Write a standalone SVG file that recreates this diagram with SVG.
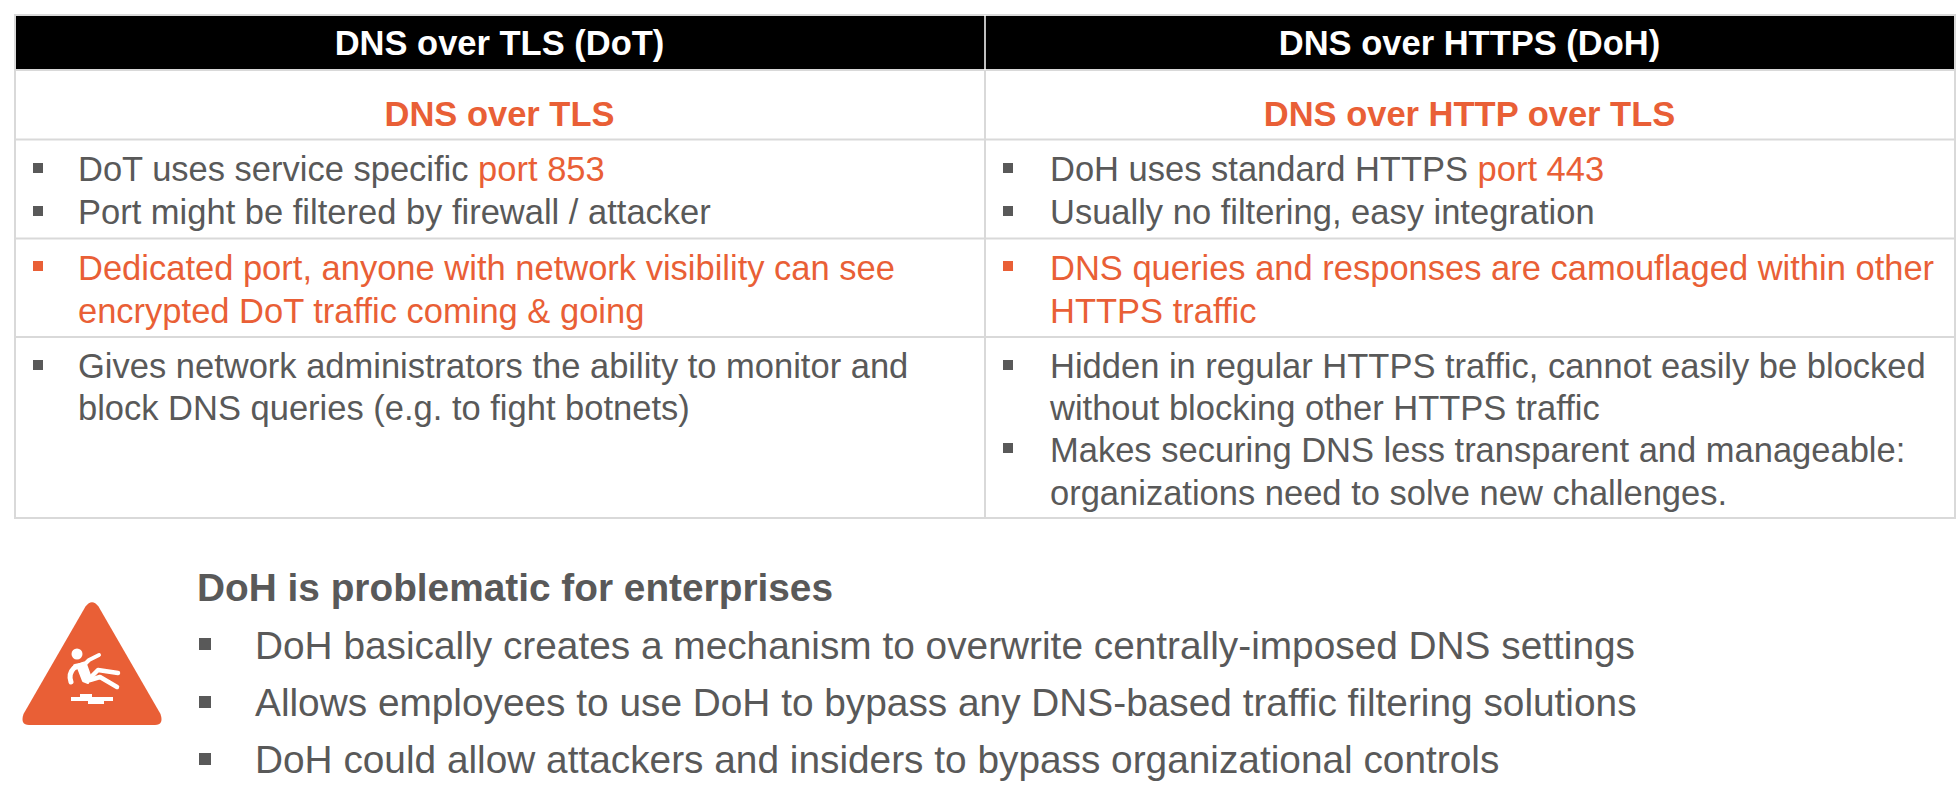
<svg xmlns="http://www.w3.org/2000/svg" width="1960" height="798" viewBox="0 0 1960 798">
<style>
text{font-family:"Liberation Sans",Arial,sans-serif}
.h{font-size:34.500px;font-weight:700;fill:#fff;text-anchor:middle}
.s{font-size:34.500px;font-weight:700;fill:#e95f36;text-anchor:middle}
.b{font-size:34.500px;fill:#595959}
.o{fill:#e95f36}
.t{font-size:38.800px;font-weight:700;fill:#595959}
.c{font-size:38.800px;fill:#595959}
.g{fill:#595959}
.l{stroke:#d9d9d9;stroke-width:2;fill:none}
</style>
<rect width="1960" height="798" fill="#fff"/>
<g id="table">
<rect x="15" y="15" width="1940" height="55" fill="#000"/>
<path class="l" d="M15 15H1955V518H15ZM15 70H1955M15 139.500H1955M15 238.500H1955M15 337H1955M985 70V518"/>
<path d="M985 15V70" stroke="#fff" stroke-width="1.500"/>
</g>
<g id="header-dot"><text class="h" x="499.500" y="55">DNS over TLS (DoT)</text></g>
<g id="header-doh"><text class="h" x="1469.500" y="55">DNS over HTTPS (DoH)</text></g>
<g id="sub-dot"><text class="s" x="499.500" y="126">DNS over TLS</text></g>
<g id="sub-doh"><text class="s" x="1469.500" y="126">DNS over HTTP over TLS</text></g>
<g id="dot-port">
<rect class="g" x="33" y="163" width="10" height="10"/><rect class="g" x="33" y="206" width="10" height="10"/>
<text class="b" x="78" y="181">DoT uses service specific <tspan class="o">port 853</tspan></text>
<text class="b" x="78" y="224">Port might be filtered by firewall / attacker</text>
</g>
<g id="doh-port">
<rect class="g" x="1003" y="163" width="10" height="10"/><rect class="g" x="1003" y="206" width="10" height="10"/>
<text class="b" x="1050" y="181">DoH uses standard HTTPS <tspan class="o">port 443</tspan></text>
<text class="b" x="1050" y="224">Usually no filtering, easy integration</text>
</g>
<g id="dot-visibility">
<rect class="o" x="33" y="261" width="10" height="10"/>
<text class="b o" x="78" y="280">Dedicated port, anyone with network visibility can see</text>
<text class="b o" x="78" y="323">encrypted DoT traffic coming &amp; going</text>
</g>
<g id="doh-visibility">
<rect class="o" x="1003" y="261" width="10" height="10"/>
<text class="b o" x="1050" y="280">DNS queries and responses are camouflaged within other</text>
<text class="b o" x="1050" y="323">HTTPS traffic</text>
</g>
<g id="dot-control">
<rect class="g" x="33" y="360" width="10" height="10"/>
<text class="b" x="78" y="378">Gives network administrators the ability to monitor and</text>
<text class="b" x="78" y="420">block DNS queries (e.g. to fight botnets)</text>
</g>
<g id="doh-control">
<rect class="g" x="1003" y="360" width="10" height="10"/><rect class="g" x="1003" y="443" width="10" height="10"/>
<text class="b" x="1050" y="378">Hidden in regular HTTPS traffic, cannot easily be blocked</text>
<text class="b" x="1050" y="420">without blocking other HTTPS traffic</text>
<text class="b" x="1050" y="462">Makes securing DNS less transparent and manageable:</text>
<text class="b" x="1050" y="505">organizations need to solve new challenges.</text>
</g>
<g id="warning-icon">
<path d="M85.500 606.500Q92 598 98.500 606.500L160.500 714Q164 725 155 725H29Q20 725 23.500 714Z" fill="#e95f36"/>
<g fill="#fff" stroke="#fff" stroke-linecap="round" stroke-linejoin="round">
<circle cx="77" cy="654" r="5.500" stroke="none"/>
<path d="M71 682Q68 674 74 668L84 664" fill="none" stroke-width="5"/>
<path d="M75 666L85 664L89 660L99 655" fill="none" stroke-width="4"/>
<path d="M78 668L86 664L91 678L88 683L83 681Z" stroke-width="2"/>
<path d="M92 676L98 670L118 673" fill="none" stroke-width="4.500"/>
<path d="M90 680L100 677L117 687" fill="none" stroke-width="4.500"/>
</g>
<path d="M71 697H80V694H92V697H113V701H104V704H88V701H71Z" fill="#fff"/>
</g>
<g id="enterprise-notes">
<text class="t" x="197" y="601">DoH is problematic for enterprises</text>
<rect class="g" x="199" y="638" width="12" height="12"/><rect class="g" x="199" y="696" width="12" height="12"/><rect class="g" x="199" y="753" width="12" height="12"/>
<text class="c" x="255" y="659">DoH basically creates a mechanism to overwrite centrally-imposed DNS settings</text>
<text class="c" x="255" y="716">Allows employees to use DoH to bypass any DNS-based traffic filtering solutions</text>
<text class="c" x="255" y="773">DoH could allow attackers and insiders to bypass organizational controls</text>
</g>
</svg>
